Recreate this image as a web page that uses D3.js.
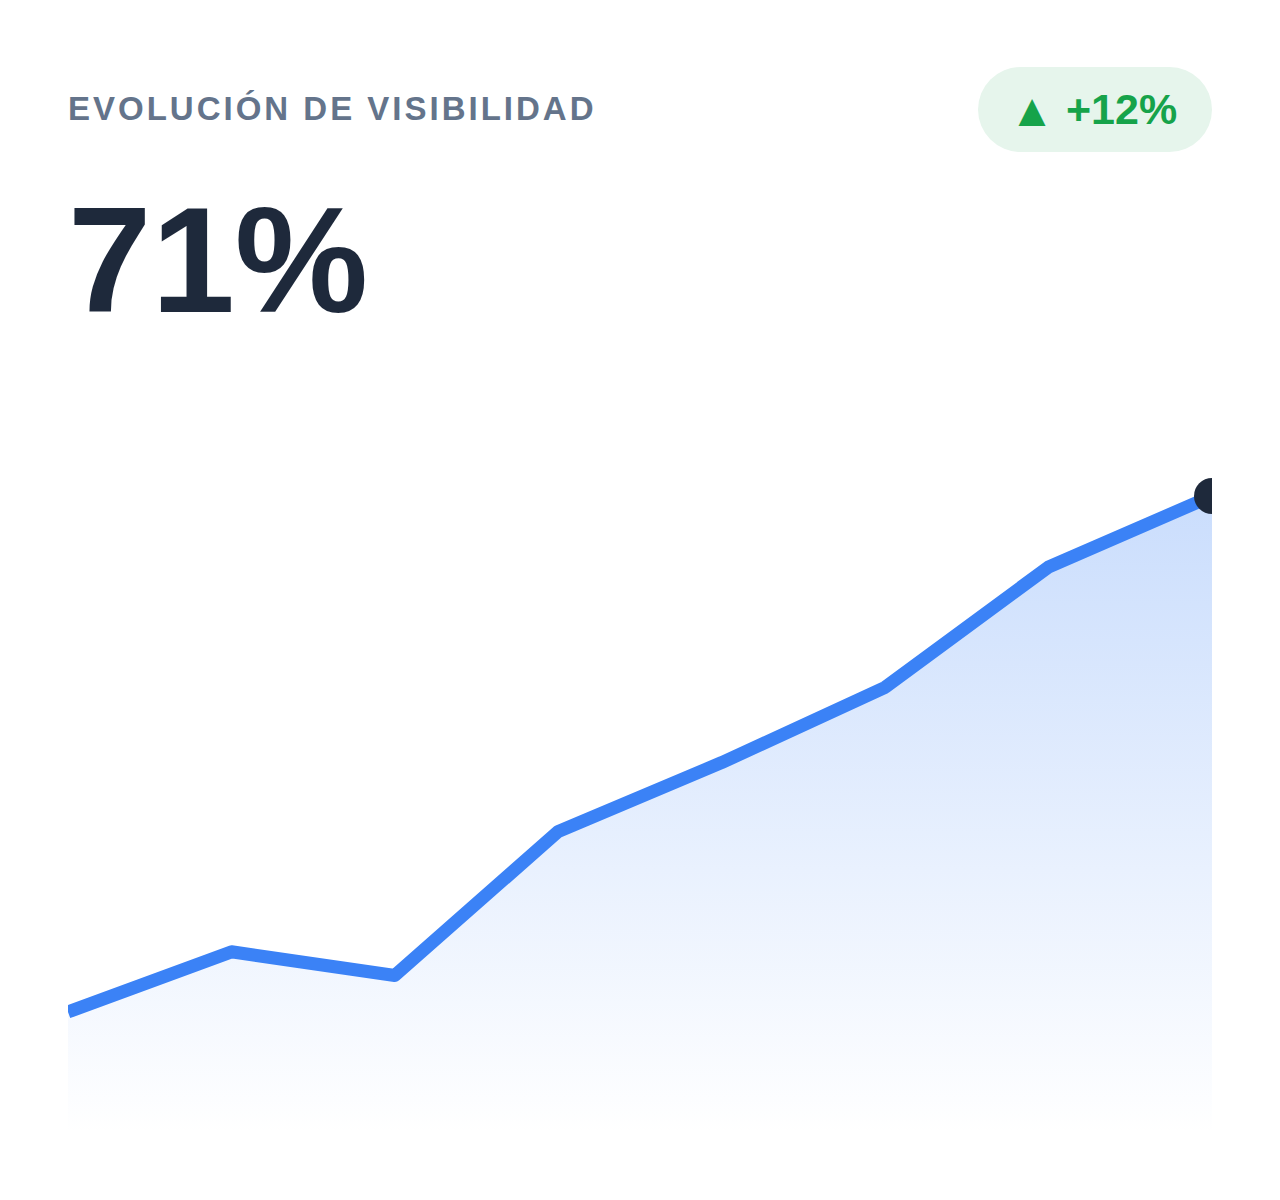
<!DOCTYPE html>
<html>
<head>
<meta charset="utf-8">
<script src="https://cdn.jsdelivr.net/npm/d3@7/dist/d3.min.js"></script>
<style>
  body { margin: 0; background: #fff; }
  svg { display: block; font-family: "Liberation Sans", Arial, sans-serif; }
</style>
</head>
<body>
<svg id="chart" width="1280" height="1200"></svg>
<script>
// visibility % per period
const periods = ['P1', 'P2', 'P3', 'P4', 'P5', 'P6', 'P7', 'P8'];
const visibility = [59, 60.4, 59.85, 63.2, 64.8, 66.55, 69.35, 71];
const headline = '71%';
const change = '+12%';
const title = 'EVOLUCIÓN DE VISIBILIDAD';

const cs = {
  palette: {
    line: '#3b82f6',
    dot: '#1e293b',
    title: '#64748b',
    value: '#1e293b',
    up: '#16a34a',
    badge: '#e6f5ec',
  },
  plot: { left: 68, right: 1212, top: 496, bottom: 1141 },
};

const svg = d3.select('#chart');

svg.append('text')
  .attr('x', 68).attr('y', 120)
  .attr('fill', cs.palette.title)
  .attr('font-size', 33).attr('font-weight', 700)
  .attr('letter-spacing', 3)
  .text(title);

svg.append('text')
  .attr('x', 68).attr('y', 312)
  .attr('fill', cs.palette.value)
  .attr('font-size', 150).attr('font-weight', 700)
  .text(headline);

// change badge
const badge = svg.append('g');
badge.append('rect')
  .attr('x', 978).attr('y', 67)
  .attr('width', 234).attr('height', 85)
  .attr('rx', 42.5)
  .attr('fill', cs.palette.badge);
badge.append('text')
  .attr('x', 1032).attr('y', 126)
  .attr('text-anchor', 'middle')
  .attr('fill', cs.palette.up)
  .attr('font-size', 46)
  .text('▲');
badge.append('text')
  .attr('x', 1066).attr('y', 124)
  .attr('fill', cs.palette.up)
  .attr('font-size', 43).attr('font-weight', 700)
  .text(change);

const x = d3.scalePoint().domain(periods).range([cs.plot.left, cs.plot.right]);
const y = d3.scaleLinear().domain([56, 71]).range([cs.plot.bottom, cs.plot.top]);

const defs = svg.append('defs');
const grad = defs.append('linearGradient')
  .attr('id', 'fade')
  .attr('gradientUnits', 'userSpaceOnUse')
  .attr('x1', 0).attr('x2', 0)
  .attr('y1', cs.plot.top).attr('y2', 1135);
grad.append('stop').attr('offset', 0).attr('stop-color', cs.palette.line).attr('stop-opacity', 0.27);
grad.append('stop').attr('offset', 1).attr('stop-color', cs.palette.line).attr('stop-opacity', 0);

defs.append('clipPath').attr('id', 'plotclip')
  .append('rect')
  .attr('x', cs.plot.left).attr('y', 0)
  .attr('width', cs.plot.right - cs.plot.left).attr('height', 1200);

const data = periods.map((p, i) => ({ p, v: visibility[i] }));
const g = svg.append('g').attr('clip-path', 'url(#plotclip)');

const area = d3.area()
  .x(d => x(d.p))
  .y0(cs.plot.bottom)
  .y1(d => y(d.v));
g.append('path').datum(data)
  .attr('d', area)
  .attr('fill', 'url(#fade)');

const line = d3.line().x(d => x(d.p)).y(d => y(d.v));
g.append('path').datum(data)
  .attr('d', line)
  .attr('fill', 'none')
  .attr('stroke', cs.palette.line)
  .attr('stroke-width', 13)
  .attr('stroke-linejoin', 'round');

const last = data[data.length - 1];
g.append('circle')
  .attr('cx', x(last.p)).attr('cy', y(last.v))
  .attr('r', 18)
  .attr('fill', cs.palette.dot);
</script>
</body>
</html>
